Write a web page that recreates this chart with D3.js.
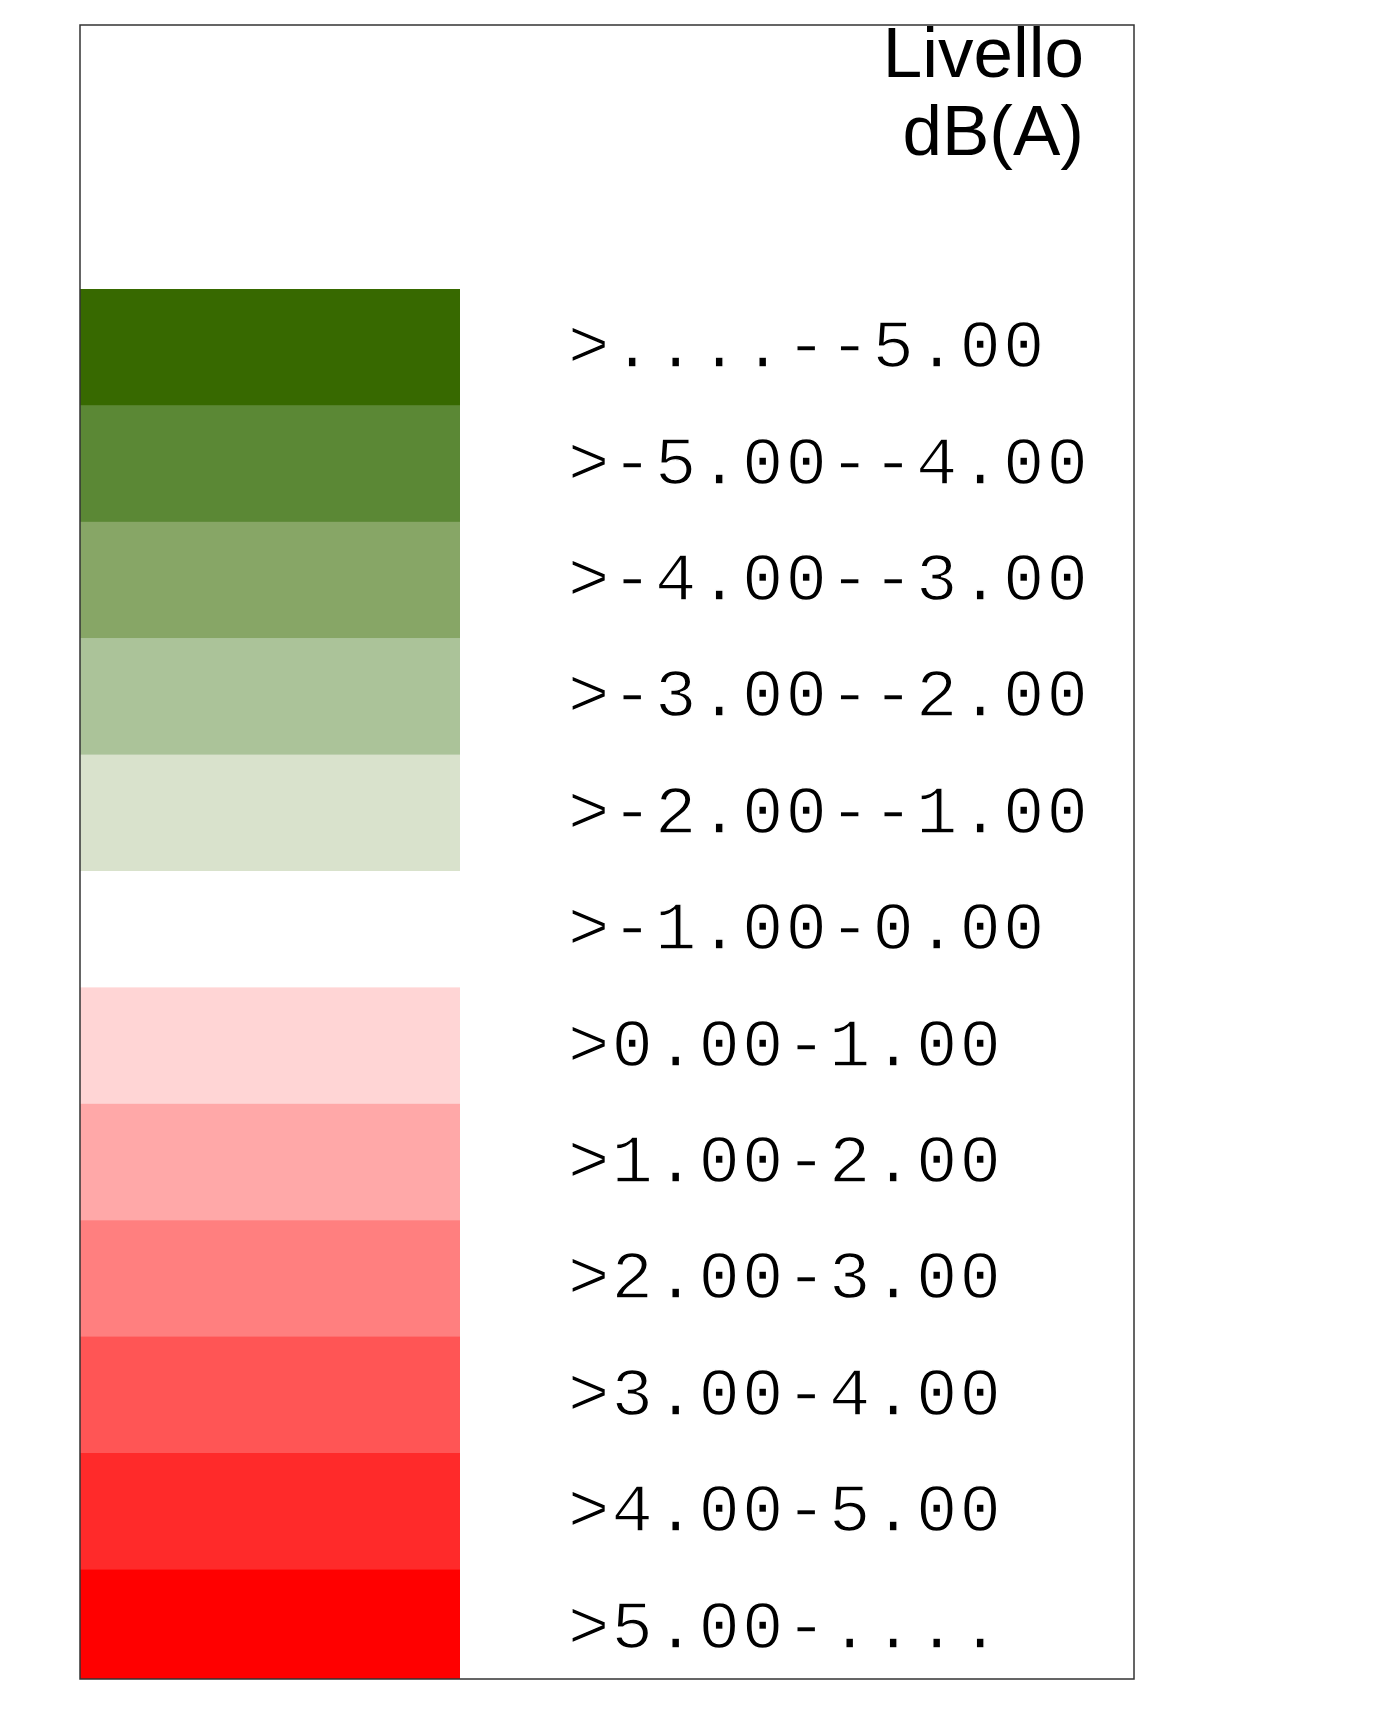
<!DOCTYPE html>
<html>
<head>
<meta charset="utf-8">
<script src="https://cdn.jsdelivr.net/npm/d3@7"></script>
<style>
  body { margin: 0; background: #fff; }
</style>
</head>
<body>
<script>
// legend classes, top to bottom
var classLabels = [">....--5.00", ">-5.00--4.00", ">-4.00--3.00", ">-3.00--2.00",
  ">-2.00--1.00", ">-1.00-0.00", ">0.00-1.00", ">1.00-2.00",
  ">2.00-3.00", ">3.00-4.00", ">4.00-5.00", ">5.00-...."];
var classColors = ["#376900", "#5b8835", "#87a666", "#abc399", "#d9e2cc", "#ffffff",
  "#ffd5d5", "#ffa8a8", "#ff7f7f", "#ff5555", "#ff2a2a", "#ff0000"];
var titleLines = ["Livello", "dB(A)"];

var width = 1381, height = 1723;
var frame = {x: 80, y: 25, w: 1054, h: 1654};

var svg = d3.select("body").append("svg")
  .attr("width", width)
  .attr("height", height);

svg.append("clipPath").attr("id", "frameClip")
  .append("rect")
  .attr("x", frame.x).attr("y", frame.y)
  .attr("width", frame.w).attr("height", frame.h);

// one band per class, last one runs past the frame and is clipped
var rowH = 116.4;
var y = d3.scaleBand()
  .domain(classLabels)
  .range([289, 289 + rowH * classLabels.length])
  .padding(0);

var g = svg.append("g").attr("clip-path", "url(#frameClip)");

g.selectAll("rect.swatch")
  .data(classLabels)
  .enter().append("rect")
  .attr("class", "swatch")
  .attr("x", frame.x)
  .attr("y", function(d) { return y(d); })
  .attr("width", 460 - frame.x)
  .attr("height", y.bandwidth() + 0.5)
  .style("fill", function(d, i) { return classColors[i]; });

var labels = g.selectAll("text.lbl")
  .data(classLabels)
  .enter().append("text")
  .attr("class", "lbl")
  .attr("x", 568)
  .attr("y", function(d) { return y(d) + y.bandwidth() / 2 + 20; })
  .style("font-family", "'Liberation Mono', 'DejaVu Sans Mono', monospace")
  .style("font-size", "69px")
  .style("fill", "#000")
  .style("stroke", "#fff")
  .style("stroke-width", 1.4)
  .text(function(d) { return d; });

// stretch the monospace pitch to the reference spacing
var probe = labels.node();
var natural = probe.getComputedTextLength() / classLabels[0].length;
labels.style("letter-spacing", (43.5 - natural) + "px");

svg.selectAll("text.title")
  .data(titleLines)
  .enter().append("text")
  .attr("class", "title")
  .attr("x", 1084)
  .attr("y", function(d, i) { return 77 + i * 78; })
  .attr("text-anchor", "end")
  .style("font-family", "'Liberation Sans', Arial, sans-serif")
  .style("font-size", "71px")
  .style("fill", "#000")
  .text(function(d) { return d; });

svg.append("rect")
  .attr("x", frame.x).attr("y", frame.y)
  .attr("width", frame.w).attr("height", frame.h)
  .style("fill", "none")
  .style("stroke", "#333")
  .style("stroke-width", 1.5);
</script>
</body>
</html>
